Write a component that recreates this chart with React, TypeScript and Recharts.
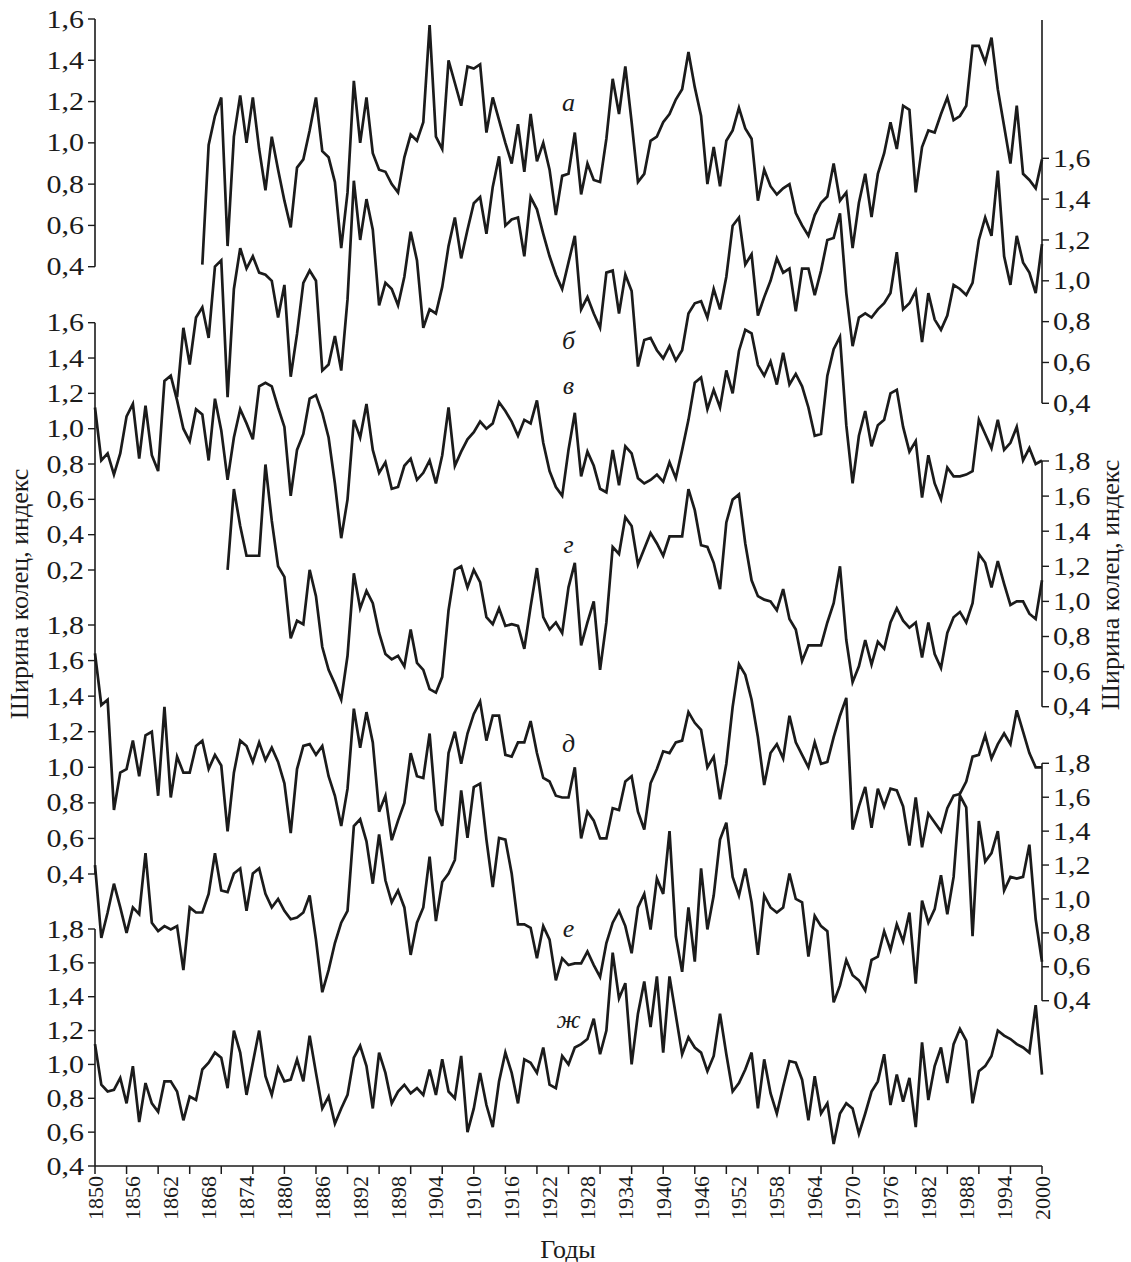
import { LineChart, Line, XAxis, YAxis, ReferenceLine, ReferenceDot } from "recharts";

const FIRST_YEAR = 1850;
const LAST_YEAR = 2000;

// Ring-width index chronologies: one value per year, starting at the given year
const SERIES_A_START = 1867;
const SERIES_A = [
  0.41, 0.99, 1.13, 1.22, 0.5, 1.03, 1.23, 1.0, 1.22, 0.97,
  0.77, 1.03, 0.87, 0.72, 0.59, 0.88, 0.92, 1.06, 1.22, 0.96,
  0.93, 0.81, 0.49, 0.76, 1.3, 1.0, 1.22, 0.95, 0.87, 0.86,
  0.8, 0.76, 0.93, 1.04, 1.01, 1.1, 1.57, 1.03, 0.97, 1.4,
  1.29, 1.18, 1.37, 1.36, 1.38, 1.05, 1.22, 1.11, 1.0, 0.9,
  1.09, 0.86, 1.14, 0.91, 1.0, 0.87, 0.65, 0.84, 0.85, 1.05,
  0.75, 0.9, 0.82, 0.81, 1.02, 1.31, 1.14, 1.37, 1.1, 0.81,
  0.85, 1.01, 1.03, 1.1, 1.14, 1.21, 1.26, 1.44, 1.27, 1.13,
  0.8, 0.98, 0.79, 1.01, 1.06, 1.17, 1.07, 1.02, 0.72, 0.87,
  0.79, 0.75, 0.78, 0.8, 0.66, 0.6, 0.55, 0.65, 0.71, 0.74,
  0.9, 0.72, 0.76, 0.49, 0.71, 0.85, 0.64, 0.85, 0.95, 1.1,
  0.97, 1.18, 1.16, 0.76, 0.98, 1.06, 1.05, 1.14, 1.22, 1.11,
  1.13, 1.18, 1.47, 1.47, 1.39, 1.51, 1.26, 1.08, 0.9, 1.18,
  0.85, 0.82, 0.78, 0.92,
];

const SERIES_B_START = 1863;
const SERIES_B = [
  0.43, 0.77, 0.59, 0.82, 0.87, 0.72, 1.07, 1.1, 0.43, 0.96,
  1.16, 1.06, 1.12, 1.04, 1.03, 1.0, 0.82, 0.98, 0.53, 0.74,
  0.99, 1.05, 1.0, 0.56, 0.59, 0.73, 0.56, 0.91, 1.49, 1.2,
  1.4, 1.25, 0.88, 0.99, 0.96, 0.88, 1.02, 1.24, 1.1, 0.77,
  0.86, 0.84, 0.97, 1.17, 1.31, 1.11, 1.25, 1.38, 1.41, 1.23,
  1.46, 1.61, 1.27, 1.3, 1.31, 1.12, 1.41, 1.35, 1.23, 1.12,
  1.03, 0.96, 1.09, 1.22, 0.86, 0.92, 0.84, 0.77, 1.04, 1.05,
  0.84, 1.03, 0.95, 0.58, 0.71, 0.72, 0.66, 0.62, 0.68, 0.61,
  0.66, 0.84, 0.89, 0.9, 0.82, 0.96, 0.86, 1.02, 1.27, 1.31,
  1.08, 1.13, 0.83, 0.92, 1.0, 1.11, 1.04, 1.06, 0.85, 1.06,
  1.06, 0.93, 1.05, 1.2, 1.21, 1.33, 0.94, 0.68, 0.82, 0.84,
  0.82, 0.86, 0.89, 0.94, 1.14, 0.86, 0.89, 0.95, 0.7, 0.94,
  0.81, 0.76, 0.83, 0.98, 0.96, 0.93, 0.99, 1.2, 1.31, 1.22,
  1.54, 1.12, 0.98, 1.22, 1.09, 1.04, 0.94, 1.18,
];

const SERIES_V_START = 1850;
const SERIES_V = [
  1.12, 0.82, 0.86, 0.74, 0.86, 1.07, 1.14, 0.83, 1.13, 0.85,
  0.76, 1.27, 1.3, 1.16, 1.0, 0.93, 1.11, 1.08, 0.82, 1.17,
  0.99, 0.71, 0.95, 1.11, 1.03, 0.94, 1.24, 1.26, 1.24, 1.12,
  1.01, 0.62, 0.88, 0.97, 1.17, 1.19, 1.09, 0.95, 0.69, 0.38,
  0.6, 1.05, 0.95, 1.14, 0.88, 0.75, 0.81, 0.66, 0.67, 0.79,
  0.83, 0.71, 0.75, 0.82, 0.69, 0.85, 1.12, 0.79, 0.87, 0.94,
  0.98, 1.04, 1.0, 1.03, 1.15, 1.1, 1.04, 0.96, 1.05, 1.03,
  1.16, 0.92, 0.76, 0.67, 0.62, 0.88, 1.09, 0.73, 0.87, 0.79,
  0.66, 0.64, 0.88, 0.68, 0.9, 0.86, 0.72, 0.69, 0.71, 0.74,
  0.7, 0.81, 0.72, 0.88, 1.05, 1.26, 1.29, 1.11, 1.22, 1.12,
  1.33, 1.2, 1.44, 1.56, 1.54, 1.36, 1.3, 1.38, 1.25, 1.43,
  1.25, 1.31, 1.24, 1.12, 0.96, 0.97, 1.3, 1.45, 1.52, 1.02,
  0.69, 0.96, 1.1, 0.9, 1.02, 1.05, 1.2, 1.22, 1.01, 0.87,
  0.93, 0.61, 0.85, 0.69, 0.6, 0.78, 0.73, 0.73, 0.74, 0.76,
  1.05, 0.97, 0.89, 1.05, 0.88, 0.92, 1.01, 0.82, 0.89, 0.8,
  0.82,
];

const SERIES_G_START = 1871;
const SERIES_G = [
  1.18, 1.64, 1.43, 1.26, 1.26, 1.26, 1.78, 1.46, 1.2, 1.14,
  0.79, 0.89, 0.87, 1.18, 1.03, 0.74, 0.61, 0.53, 0.44, 0.69,
  1.16, 0.96, 1.06, 0.99, 0.82, 0.7, 0.67, 0.69, 0.63, 0.84,
  0.65, 0.61, 0.5, 0.48, 0.57, 0.95, 1.18, 1.2, 1.08, 1.18,
  1.11, 0.91, 0.87, 0.96, 0.86, 0.87, 0.86, 0.73, 0.97, 1.19,
  0.91, 0.84, 0.88, 0.82, 1.08, 1.22, 0.75, 0.88, 1.0, 0.61,
  0.88, 1.31, 1.27, 1.48, 1.43, 1.21, 1.3, 1.39, 1.33, 1.26,
  1.37, 1.37, 1.37, 1.64, 1.52, 1.32, 1.31, 1.22, 1.07, 1.45,
  1.58, 1.61, 1.33, 1.12, 1.03, 1.01, 1.0, 0.95, 1.07, 0.9,
  0.84, 0.66, 0.75, 0.75, 0.75, 0.88, 0.99, 1.2, 0.78, 0.54,
  0.63, 0.78, 0.64, 0.77, 0.73, 0.88, 0.96, 0.89, 0.85, 0.88,
  0.68, 0.88, 0.7, 0.62, 0.82, 0.91, 0.94, 0.88, 0.99, 1.27,
  1.22, 1.08, 1.23, 1.1, 0.98, 1.0, 1.0, 0.93, 0.9, 1.12,
];

const SERIES_D_START = 1850;
const SERIES_D = [
  1.64, 1.35, 1.38, 0.76, 0.97, 0.99, 1.15, 0.95, 1.18, 1.2,
  0.84, 1.34, 0.83, 1.06, 0.97, 0.97, 1.12, 1.15, 0.99, 1.07,
  1.01, 0.64, 0.97, 1.15, 1.12, 1.03, 1.14, 1.04, 1.11, 1.03,
  0.91, 0.63, 0.99, 1.12, 1.13, 1.07, 1.12, 0.95, 0.84, 0.67,
  0.88, 1.33, 1.11, 1.31, 1.14, 0.75, 0.84, 0.59, 0.7, 0.8,
  1.08, 0.95, 0.94, 1.19, 0.76, 0.67, 1.08, 1.2, 1.02, 1.19,
  1.3, 1.37, 1.15, 1.29, 1.29, 1.07, 1.06, 1.14, 1.14, 1.26,
  1.08, 0.94, 0.92, 0.84, 0.83, 0.83, 1.0, 0.6, 0.75, 0.7,
  0.6, 0.6, 0.77, 0.76, 0.92, 0.95, 0.75, 0.65, 0.91, 0.99,
  1.09, 1.08, 1.14, 1.15, 1.31, 1.25, 1.21, 1.0, 1.06, 0.82,
  1.02, 1.34, 1.58, 1.52, 1.38, 1.17, 0.9, 1.08, 1.13, 1.05,
  1.29, 1.14, 1.07, 1.0, 1.14, 1.02, 1.03, 1.17, 1.29, 1.39,
  0.65, 0.78, 0.89, 0.66, 0.88, 0.78, 0.88, 0.87, 0.78, 0.56,
  0.83, 0.55, 0.74, 0.69, 0.64, 0.77, 0.84, 0.85, 0.92, 1.06,
  1.07, 1.18, 1.05, 1.13, 1.19, 1.13, 1.32, 1.2, 1.08, 1.0,
  1.0,
];

const SERIES_E_START = 1850;
const SERIES_E = [
  1.2, 0.77, 0.92, 1.09, 0.95, 0.8, 0.95, 0.91, 1.27, 0.86,
  0.81, 0.84, 0.82, 0.84, 0.58, 0.95, 0.92, 0.92, 1.03, 1.27,
  1.05, 1.04, 1.15, 1.18, 0.93, 1.15, 1.18, 1.03, 0.95, 1.0,
  0.93, 0.88, 0.89, 0.92, 1.02, 0.76, 0.45, 0.58, 0.74, 0.86,
  0.93, 1.43, 1.47, 1.34, 1.09, 1.38, 1.11, 0.98, 1.05, 0.95,
  0.67, 0.86, 0.95, 1.25, 0.87, 1.1, 1.15, 1.23, 1.64, 1.36,
  1.66, 1.68, 1.35, 1.07, 1.36, 1.35, 1.15, 0.85, 0.85, 0.83,
  0.65, 0.84, 0.76, 0.52, 0.65, 0.61, 0.62, 0.62, 0.69, 0.61,
  0.54, 0.74, 0.86, 0.93, 0.84, 0.68, 0.95, 1.03, 0.82, 1.12,
  1.03, 1.4, 0.78, 0.57, 0.95, 0.63, 1.18, 0.82, 1.02, 1.35,
  1.45, 1.13, 1.02, 1.18, 0.98, 0.67, 1.02, 0.95, 0.92, 0.95,
  1.15, 1.0, 0.98, 0.66, 0.9, 0.84, 0.81, 0.39, 0.49, 0.64,
  0.55, 0.52, 0.46, 0.64, 0.66, 0.81, 0.7, 0.85, 0.75, 0.92,
  0.5, 0.99, 0.86, 0.94, 1.14, 0.91, 1.13, 1.61, 1.54, 0.78,
  1.46, 1.22, 1.27, 1.4, 1.05, 1.13, 1.12, 1.13, 1.32, 0.88,
  0.63,
];

const SERIES_ZH_START = 1850;
const SERIES_ZH = [
  1.12, 0.88, 0.84, 0.85, 0.92, 0.77, 0.99, 0.66, 0.89, 0.77,
  0.72, 0.9, 0.9, 0.84, 0.67, 0.81, 0.79, 0.97, 1.01, 1.07,
  1.04, 0.86, 1.2, 1.07, 0.82, 1.01, 1.2, 0.93, 0.82, 0.98,
  0.9, 0.91, 1.03, 0.9, 1.17, 0.95, 0.74, 0.81, 0.65, 0.74,
  0.82, 1.04, 1.11, 0.99, 0.74, 1.07, 0.95, 0.77, 0.84, 0.88,
  0.83, 0.86, 0.82, 0.97, 0.82, 1.03, 0.84, 0.8, 1.05, 0.6,
  0.74, 0.95, 0.76, 0.63, 0.9, 1.07, 0.95, 0.77, 1.03, 1.01,
  0.95, 1.1, 0.88, 0.86, 1.05, 1.0, 1.1, 1.12, 1.15, 1.27,
  1.06, 1.2, 1.66, 1.39, 1.48, 1.0, 1.3, 1.49, 1.22, 1.52,
  1.07, 1.52, 1.29, 1.06, 1.16, 1.1, 1.07, 0.96, 1.05, 1.3,
  1.06, 0.84, 0.89, 0.97, 1.07, 0.74, 1.03, 0.83, 0.71, 0.87,
  1.02, 1.01, 0.91, 0.67, 0.93, 0.71, 0.77, 0.53, 0.71, 0.77,
  0.74, 0.59, 0.71, 0.84, 0.9, 1.06, 0.76, 0.94, 0.78, 0.92,
  0.63, 1.13, 0.79, 0.99, 1.1, 0.89, 1.12, 1.21, 1.14, 0.77,
  0.96, 0.99, 1.05, 1.2, 1.17, 1.15, 1.12, 1.1, 1.07, 1.35,
  0.94,
];

// x axis: labels every 6 years, tick marks every 5 years
const YEAR_LABELS = [
  1850, 1856, 1862, 1868, 1874, 1880, 1886, 1892, 1898, 1904, 1910, 1916, 1922,
  1928, 1934, 1940, 1946, 1952, 1958, 1964, 1970, 1976, 1982, 1988, 1994, 2000,
];
const YEAR_MARKS = [
  1850, 1855, 1860, 1865, 1870, 1875, 1880, 1885, 1890, 1895, 1900, 1905, 1910,
  1915, 1920, 1925, 1930, 1935, 1940, 1945, 1950, 1955, 1960, 1965, 1970, 1975,
  1980, 1985, 1990, 1995, 2000,
];

const TICKS_02_16 = [0.2, 0.4, 0.6, 0.8, 1.0, 1.2, 1.4, 1.6];
const TICKS_04_16 = [0.4, 0.6, 0.8, 1.0, 1.2, 1.4, 1.6];
const TICKS_04_18 = [0.4, 0.6, 0.8, 1.0, 1.2, 1.4, 1.6, 1.8];

const SERIES = [
  { key: "a", start: SERIES_A_START, values: SERIES_A },
  { key: "b", start: SERIES_B_START, values: SERIES_B },
  { key: "v", start: SERIES_V_START, values: SERIES_V },
  { key: "g", start: SERIES_G_START, values: SERIES_G },
  { key: "d", start: SERIES_D_START, values: SERIES_D },
  { key: "e", start: SERIES_E_START, values: SERIES_E },
  { key: "zh", start: SERIES_ZH_START, values: SERIES_ZH },
];

const rows: Record<string, number | null>[] = [];
for (let year = FIRST_YEAR; year <= LAST_YEAR; year++) {
  const row: Record<string, number | null> = { year };
  for (const s of SERIES) {
    const i = year - s.start;
    row[s.key] = i >= 0 && i < s.values.length ? s.values[i] : null;
  }
  rows.push(row);
}

const X_TICKS = Array.from(new Set([...YEAR_MARKS, ...YEAR_LABELS])).sort((a, b) => a - b);

const W = 1131;
const H = 1262;
const PLOT_LEFT = 95;
const PLOT_RIGHT = 1042;
const PLOT_TOP = 19;
const PLOT_BOTTOM = 1166;
// y axes are stacked side by side, so each gets a hair-thin slot
const AXIS_SLOT = 0.01;

const INK = "#1b1b1b";
const FONT = '"Liberation Serif", "Times New Roman", serif';
const INDEX_FONT = 25;
const INDEX_STRETCH = 1.2; // the index numerals are set wide
const YEAR_FONT = 22;
const TITLE_FONT = 26;

type Panel = {
  key: string;
  side: "left" | "right";
  top: number; // pixel row of the highest tick
  bottom: number; // pixel row of the lowest tick
  hi: number;
  lo: number;
  ticks: number[];
  lineTop: number;
  lineBottom: number;
};

// Where each chronology's own scale sits on the page
const PANELS: Panel[] = [
  { key: "a", side: "left", top: 19, bottom: 266.7, hi: 1.6, lo: 0.4, ticks: TICKS_04_16, lineTop: 19, lineBottom: 266.7 },
  { key: "b", side: "right", top: 158.3, bottom: 403.3, hi: 1.6, lo: 0.4, ticks: TICKS_04_16, lineTop: 20, lineBottom: 403.3 },
  { key: "v", side: "left", top: 322.7, bottom: 570, hi: 1.6, lo: 0.2, ticks: TICKS_02_16, lineTop: 322.7, lineBottom: 625 },
  { key: "g", side: "right", top: 461, bottom: 706.7, hi: 1.8, lo: 0.4, ticks: TICKS_04_18, lineTop: 461, lineBottom: 706.7 },
  { key: "d", side: "left", top: 625, bottom: 874, hi: 1.8, lo: 0.4, ticks: TICKS_04_18, lineTop: 625, lineBottom: 874 },
  { key: "e", side: "right", top: 763.3, bottom: 1000.7, hi: 1.8, lo: 0.4, ticks: TICKS_04_18, lineTop: 763.3, lineBottom: 1000.7 },
  { key: "zh", side: "left", top: 929, bottom: 1166, hi: 1.8, lo: 0.4, ticks: TICKS_04_18, lineTop: 929, lineBottom: 1166 },
];

const LEFT_COUNT = PANELS.filter((p) => p.side === "left").length;
const RIGHT_COUNT = PANELS.length - LEFT_COUNT;

function unitsPerPixel(p: Panel) {
  return (p.hi - p.lo) / (p.bottom - p.top);
}

// Stretch the panel scale over the whole plot height
function domainOf(p: Panel): [number, number] {
  const u = unitsPerPixel(p);
  return [p.lo - (PLOT_BOTTOM - p.bottom) * u, p.hi + (p.top - PLOT_TOP) * u];
}

function valueAt(p: Panel, px: number) {
  return p.hi - (px - p.top) * unitsPerPixel(p);
}

// Italic letters naming each curve
const CURVE_NAMES = [
  { axis: "a", text: "а", year: 1925, value: 1.2 },
  { axis: "b", text: "б", year: 1925, value: 0.71 },
  { axis: "v", text: "в", year: 1925, value: 1.25 },
  { axis: "g", text: "г", year: 1925, value: 1.33 },
  { axis: "d", text: "д", year: 1925, value: 1.14 },
  { axis: "e", text: "е", year: 1925, value: 0.83 },
  { axis: "zh", text: "ж", year: 1925, value: 1.27 },
];

const formatIndex = (v: number) => v.toFixed(1).replace(".", ",");

function IndexTick(props: any) {
  const { x, y, payload, textAnchor } = props;
  return (
    <text
      transform={`translate(${x} ${y}) scale(${INDEX_STRETCH} 1)`}
      textAnchor={textAnchor}
      dominantBaseline="central"
      fontFamily={FONT}
      fontSize={INDEX_FONT}
      fill={INK}
    >
      {formatIndex(Number(payload.value))}
    </text>
  );
}

function YearTick(props: any) {
  const { x, payload } = props;
  const year = Number(payload.value);
  const y = PLOT_BOTTOM;
  return (
    <g>
      {YEAR_MARKS.includes(year) && (
        <line x1={x} x2={x} y1={y} y2={y + 8} stroke={INK} strokeWidth={1.5} />
      )}
      {YEAR_LABELS.includes(year) && (
        <text
          x={x}
          y={y + 10}
          transform={`rotate(-90 ${x} ${y + 10})`}
          textAnchor="end"
          dominantBaseline="central"
          fontFamily={FONT}
          fontSize={YEAR_FONT}
          fill={INK}
        >
          {year}
        </text>
      )}
    </g>
  );
}

function SideTitle({ posX, posY, title }: { posX: number; posY: number; title: string }) {
  return (
    <text
      x={posX}
      y={posY}
      transform={`rotate(-90 ${posX} ${posY})`}
      textAnchor="middle"
      dominantBaseline="central"
      fontFamily={FONT}
      fontSize={TITLE_FONT}
      fill={INK}
    >
      {title}
    </text>
  );
}

function BottomTitle({ posX, posY, title }: { posX: number; posY: number; title: string }) {
  return (
    <text x={posX} y={posY} textAnchor="middle" dominantBaseline="central" fontFamily={FONT} fontSize={TITLE_FONT} fill={INK}>
      {title}
    </text>
  );
}

export default function App() {
  return (
    <div style={{ position: "absolute", left: 0, top: 0, width: W, height: H, background: "#fff" }}>
      <LineChart
        width={W}
        height={H}
        data={rows}
        margin={{
          top: PLOT_TOP,
          right: W - PLOT_RIGHT - RIGHT_COUNT * AXIS_SLOT,
          left: PLOT_LEFT - LEFT_COUNT * AXIS_SLOT,
          bottom: 0,
        }}
      >
        <XAxis
          dataKey="year"
          type="number"
          domain={[FIRST_YEAR, LAST_YEAR]}
          ticks={X_TICKS}
          interval={0}
          height={H - PLOT_BOTTOM}
          tickLine={false}
          tick={(p: any) => <YearTick {...p} />}
          axisLine={{ stroke: INK, strokeWidth: 1.6 }}
          label={<BottomTitle posX={568} posY={1249} title="Годы" />}
        />
        {PANELS.map((p) => (
          <YAxis
            key={p.key}
            yAxisId={p.key}
            orientation={p.side}
            width={AXIS_SLOT}
            type="number"
            domain={domainOf(p)}
            allowDataOverflow
            ticks={p.ticks}
            interval={0}
            axisLine={false}
            tickLine={{ stroke: INK, strokeWidth: 1.4 }}
            tickSize={7}
            tickMargin={4}
            tick={(t: any) => <IndexTick {...t} />}
            label={
              p.key === "a" ? (
                <SideTitle posX={19} posY={594} title="Ширина колец, индекс" />
              ) : p.key === "b" ? (
                <SideTitle posX={1110} posY={585} title="Ширина колец, индекс" />
              ) : undefined
            }
          />
        ))}
        {PANELS.map((p) => {
          const edge = p.side === "left" ? FIRST_YEAR : LAST_YEAR;
          return (
            <ReferenceLine
              key={`axis-${p.key}`}
              yAxisId={p.key}
              segment={[
                { x: edge, y: valueAt(p, p.lineBottom) },
                { x: edge, y: valueAt(p, p.lineTop) },
              ]}
              stroke={INK}
              strokeWidth={1.6}
              ifOverflow="visible"
            />
          );
        })}
        {SERIES.map((s) => (
          <Line
            key={s.key}
            yAxisId={s.key}
            dataKey={s.key}
            type="linear"
            stroke={INK}
            strokeWidth={2.7}
            dot={false}
            activeDot={false}
            connectNulls={false}
            isAnimationActive={false}
          />
        ))}
        {CURVE_NAMES.map((c) => (
          <ReferenceDot
            key={`name-${c.axis}`}
            yAxisId={c.axis}
            x={c.year}
            y={c.value}
            r={0}
            fill="none"
            stroke="none"
            label={{
              value: c.text,
              position: "center",
              fontSize: 26,
              fontStyle: "italic",
              fontFamily: FONT,
              fill: INK,
            }}
          />
        ))}
      </LineChart>
    </div>
  );
}
